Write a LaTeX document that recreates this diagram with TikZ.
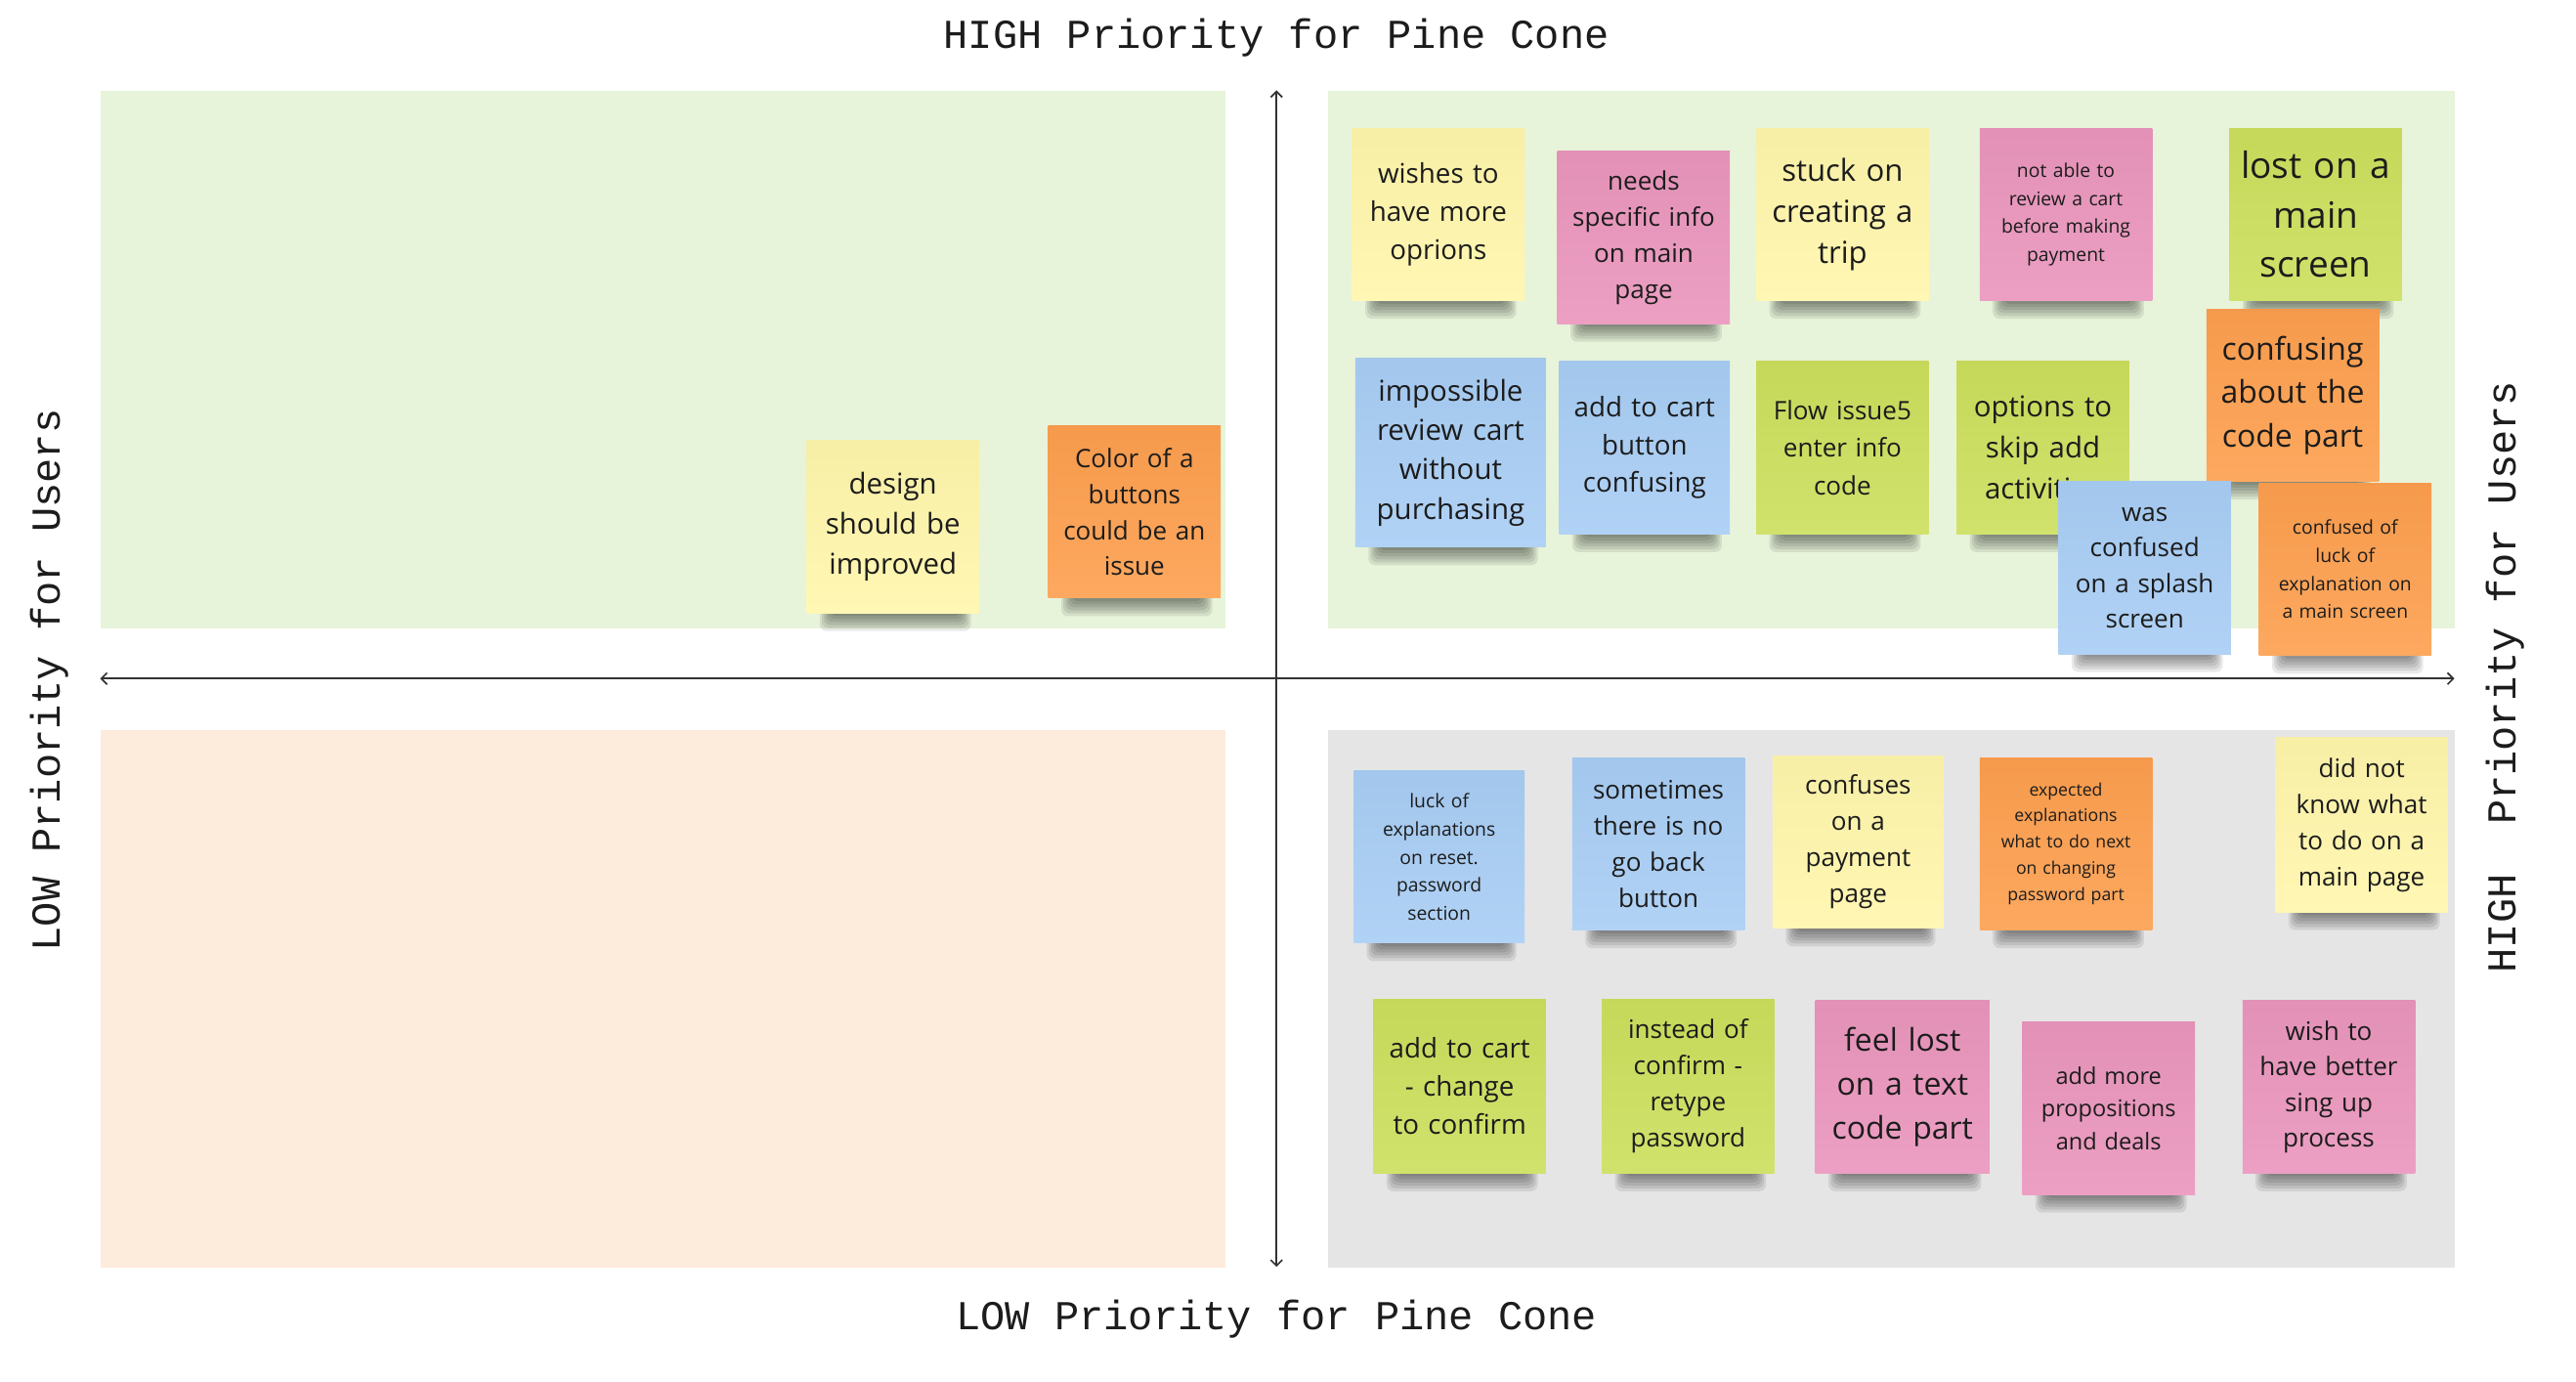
\documentclass[tikz,border=0pt]{standalone}
\usepackage{fontspec}
\setmainfont{Open Sans}
\newfontfamily\axisfont{Liberation Mono}
\usetikzlibrary{arrows.meta}

\definecolor{qgreen}{HTML}{E7F4DA}
\definecolor{qpeach}{HTML}{FDEBDB}
\definecolor{qgray}{HTML}{E5E5E5}
\definecolor{nyellow}{HTML}{FFF6AB}
\definecolor{npink}{HTML}{EA95BC}
\definecolor{ngreen}{HTML}{CCDF5C}
\definecolor{nblue}{HTML}{A8CDF4}
\definecolor{norange}{HTML}{FD9F4E}
\definecolor{inkdark}{HTML}{1C1C1C}
\definecolor{axisink}{HTML}{333333}

\tikzset{
  quad/.style={draw=none,inner sep=0pt,anchor=north west},
  note/.style={draw=none,inner sep=0pt,align=center,text=inkdark},
  axislabel/.style={font=\axisfont\fontsize{25}{30}\selectfont,text=inkdark,inner sep=0pt},
  axisline/.style={axisink,line width=1pt,{Straight Barb[length=3.5pt,width=7pt]}-{Straight Barb[length=3.5pt,width=7pt]}}
}

% sticky note: name, left, top, width, height, colour, font size, line skip, text
\newcommand\sticky[9]{%
  \pgfmathsetmacro\sxa{#2+8}\pgfmathsetmacro\sxb{#2+#4-5}%
  \pgfmathsetmacro\sya{#3+#5-6}\pgfmathsetmacro\syb{#3+#5+11}%
  \foreach \k in {0,...,5}{%
    \fill[black,opacity=0.085,rounded corners=4pt] (\sxa+\k*1.3,\sya) rectangle (\sxb-\k*1.3,\syb-\k*1.8);}%
  \pgfmathsetmacro\tw{#4-6}%
  \node[note,top color=#6!97!black,bottom color=#6!90!white,minimum width=#4pt,minimum height=#5pt,text width=\tw pt,
        font=\fontsize{#7}{#8}\selectfont] (#1) at (#2+#4/2,#3+#5/2) {\raisebox{2pt}{\parbox{\tw pt}{\centering #9}}};%
}

\begin{document}
\begin{tikzpicture}[x=1pt,y=-1pt]
\useasboundingbox (0,0) rectangle (1568,841);
\fill[white] (0,0) rectangle (1568,841);

% quadrants
\node[quad,fill=qgreen,minimum width=685pt,minimum height=327pt] (qtl) at (61,55) {};
\node[quad,fill=qgreen,minimum width=686pt,minimum height=327pt] (qtr) at (808,55) {};
\node[quad,fill=qpeach,minimum width=685pt,minimum height=327pt] (qbl) at (61,444) {};
\node[quad,fill=qgray,minimum width=686pt,minimum height=327pt] (qbr) at (808,444) {};

% axes
\coordinate (xleft) at (61,413);
\coordinate (xright) at (1494,413);
\coordinate (ytop) at (777,55);
\coordinate (ybottom) at (777,771);
\draw[axisline] (xleft) -- (xright);
\draw[axisline] (ybottom) -- (ytop);

% axis labels
\node[axislabel] (ltop) at (777,23) {HIGH Priority for Pine Cone};
\node[axislabel] (lbottom) at (777,803) {LOW Priority for Pine Cone};
\node[axislabel,rotate=90] (lleft) at (30,414) {LOW Priority for Users};
\node[axislabel,rotate=90] (lright) at (1525,412) {HIGH\ \ Priority for Users};

% high / high, first row
\sticky{n1}{823}{78}{105}{105}{nyellow}{16.5}{23}{wishes to\\have more\\oprions}
\sticky{n2}{948}{92}{105}{105}{npink}{15.5}{22}{needs\\specific info\\on main\\page}
\sticky{n3}{1069}{78}{105}{105}{nyellow}{18.5}{25}{stuck on\\creating a\\trip}
\sticky{n4}{1205}{78}{105}{105}{npink}{11.5}{17}{not able to\\review a cart\\before making\\payment}
\sticky{n5}{1357}{78}{105}{105}{ngreen}{22}{30}{lost on a\\main\\screen}

% high / high, second row
\sticky{n6}{825}{218}{116}{115}{nblue}{17.5}{24}{impossible\\review cart\\without\\purchasing}
\sticky{n7}{949}{220}{104}{105}{nblue}{16.5}{23}{add to cart\\button\\confusing}
\sticky{n8}{1069}{220}{105}{105}{ngreen}{15.5}{23}{Flow issue5\\enter info\\code}
\sticky{n9}{1191}{220}{105}{105}{ngreen}{17.5}{25}{options to\\skip add\\activities}
\sticky{n10}{1343}{188}{105}{105}{norange}{19}{26.5}{confusing\\about the\\code part}
\sticky{n11}{1253}{293}{105}{105}{nblue}{15.5}{21.7}{was\\confused\\on a splash\\screen}
\sticky{n12}{1375}{294}{105}{105}{norange}{11.5}{17}{confused of\\luck of\\explanation on\\a main screen}

% high for users, low for the company
\sticky{n13}{491}{268}{105}{105}{nyellow}{17.5}{24.5}{design\\should be\\improved}
\sticky{n14}{638}{259}{105}{105}{norange}{15.5}{22}{Color of a\\buttons\\could be an\\issue}

% low for users, high for the company, first row
\sticky{n15}{824}{469}{104}{105}{nblue}{11.5}{17}{luck of\\explanations\\on reset.\\password\\section}
\sticky{n16}{957}{461}{105}{105}{nblue}{15.5}{22}{sometimes\\there is no\\go back\\button}
\sticky{n17}{1079}{460}{104}{105}{nyellow}{15.5}{22}{confuses\\on a\\payment\\page}
\sticky{n18}{1205}{461}{105}{105}{norange}{10.5}{16}{expected\\explanations\\what to do next\\on changing\\password part}
\sticky{n19}{1385}{449}{105}{106}{nyellow}{15.5}{22}{did not\\know what\\to do on a\\main page}

% low for users, high for the company, second row
\sticky{n20}{836}{608}{105}{106}{ngreen}{16.5}{23}{add to cart\\- change\\to confirm}
\sticky{n21}{975}{608}{105}{106}{ngreen}{15.5}{22}{instead of\\confirm -\\retype\\password}
\sticky{n22}{1105}{609}{106}{105}{npink}{19}{26.5}{feel lost\\on a text\\code part}
\sticky{n23}{1231}{622}{105}{105}{npink}{14}{20}{add more\\propositions\\and deals}
\sticky{n24}{1365}{609}{105}{105}{npink}{15.5}{21.7}{wish to\\have better\\sing up\\process}
\end{tikzpicture}
\end{document}
